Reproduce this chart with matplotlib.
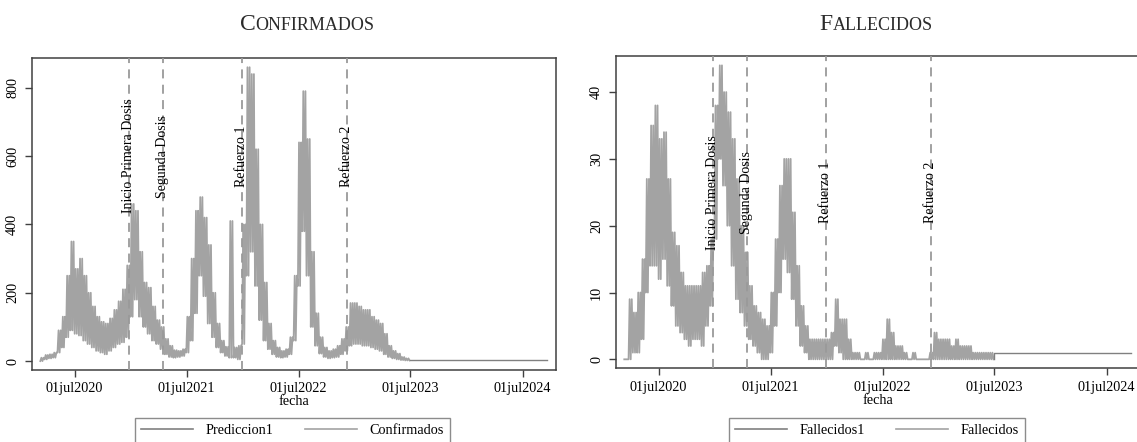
import numpy as np
import pandas as pd
import matplotlib
matplotlib.use("Agg")
import matplotlib.pyplot as plt
from matplotlib.lines import Line2D

plt.rcParams['font.family'] = ['Liberation Serif', 'DejaVu Serif']

# biweekly periods starting 11mar2020, values are (min, max) read per period
start = pd.Timestamp("2020-03-11")
data_end = pd.Timestamp("2023-06-28")
pred_end = pd.Timestamp("2024-09-18")

conf_lo = [0, 5, 8, 10, 25, 40, 70, 90, 80, 75, 60, 50, 40, 30, 25, 20, 30, 40, 50, 55,
           70, 130, 180, 130, 100, 80, 60, 50, 35, 20, 12, 10, 12, 15, 25, 60, 140, 250, 190, 110,
           70, 40, 25, 15, 10, 10, 5, 50, 250, 320, 220, 120, 60, 35, 20, 12, 10, 12, 20, 60,
           220, 380, 250, 100, 45, 22, 12, 8, 10, 12, 20, 30, 45, 50, 50, 45, 45, 40, 35, 30,
           20, 12, 8, 5, 3, 2]
conf_hi = [10, 18, 20, 25, 90, 130, 250, 350, 270, 300, 250, 200, 160, 130, 115, 110, 125, 150, 175, 210,
           280, 460, 440, 320, 230, 215, 160, 120, 100, 65, 45, 32, 30, 35, 130, 300, 440, 480, 420, 340,
           200, 110, 60, 42, 410, 40, 45, 400, 860, 840, 620, 400, 230, 110, 60, 40, 30, 35, 70, 250,
           640, 790, 650, 320, 140, 70, 40, 30, 35, 45, 65, 100, 170, 170, 160, 150, 150, 130, 120, 110,
           80, 45, 30, 22, 12, 8]
conf_pred = 2

fall_lo = [0, 0, 1, 1, 3, 10, 14, 14, 12, 15, 11, 8, 5, 4, 3, 2, 3, 3, 2, 5,
           8, 18, 30, 26, 20, 14, 9, 7, 5, 3, 2, 1, 0, 0, 1, 5, 10, 15, 13, 9,
           5, 2, 1, 0, 0, 0, 0, 0, 0, 2, 1, 0, 0, 0, 0, 0, 0, 0, 0, 0,
           0, 0, 0, 0, 0, 0, 0, 0, 0, 0, 0, 0, 0, 0, 0, 0, 0, 0, 0, 0,
           0, 0, 0, 0, 0, 0]
fall_hi = [0, 9, 7, 10, 15, 27, 35, 38, 33, 34, 27, 19, 17, 13, 11, 11, 11, 11, 13, 14,
           18, 38, 44, 40, 37, 33, 27, 20, 16, 11, 8, 7, 6, 5, 10, 18, 26, 30, 30, 22,
           14, 8, 5, 3, 3, 3, 3, 3, 4, 9, 6, 6, 3, 1, 1, 0, 1, 0, 1, 1,
           3, 6, 4, 2, 2, 1, 0, 1, 0, 0, 0, 1, 4, 3, 3, 3, 2, 3, 2, 2,
           2, 1, 1, 1, 1, 1]
fall_pred = 1

vac_dates = pd.to_datetime(["2020-12-25", "2021-04-14", "2021-12-28", "2022-12-06"])
vac_labels = ["Inicio Primera Dosis", "Segunda Dosis", "Refuerzo 1", "Refuerzo 2"]

tick_dates = pd.to_datetime(["2020-07-01", "2021-07-01", "2022-07-01", "2023-07-01", "2024-07-01"])
tick_labels = ["01jul2020", "01jul2021", "01jul2022", "01jul2023", "01jul2024"]


def zigzag(lo, hi, n=4):
    t, v = [], []
    step = 14 * 24 / n
    for k, (a, b) in enumerate(zip(lo, hi)):
        d0 = start + pd.Timedelta(days=14 * k)
        for j in range(n):
            t.append(d0 + pd.Timedelta(hours=step * j))
            v.append(a if j % 2 == 0 else b)
    t.append(data_end)
    v.append(lo[-1])
    return t, v


LIGHT = '#a3a3a3'
DARK = '#808080'
FRAME = '#404040'

fig = plt.figure(figsize=(11.37, 4.42), dpi=100)
ax1 = fig.add_axes([0.0279, 0.1629, 0.4607, 0.7066])
ax2 = fig.add_axes([0.5415, 0.1674, 0.4607, 0.7059])

panels = [
    (ax1, conf_lo, conf_hi, conf_pred, "Prediccion1", "Confirmados", (-26, 888), [0, 200, 400, 600, 800], 600, 0.2573),
    (ax2, fall_lo, fall_hi, fall_pred, "Fallecidos1", "Fallecidos", (-1.3, 45.4), [0, 10, 20, 30, 40], 25, 0.7713),
]

for ax, lo, hi, pred, lab_pred, lab_obs, ylim, yt, ytext, legx in panels:
    t, v = zigzag(lo, hi)
    ax.plot(t, v, color=LIGHT, lw=1.3, zorder=2)
    ax.plot([data_end, data_end, pred_end], [lo[-1], pred, pred], color=DARK, lw=1.0, zorder=3)
    for d, lab in zip(vac_dates, vac_labels):
        ax.axvline(d, color='#9a9a9a', lw=1.3, ls=(0, (5, 3.5)), zorder=4)
        ax.text(d, ytext, lab, rotation=90, ha='center', va='center', fontsize=10, zorder=5)
    ax.set_xlim(pd.Timestamp("2020-02-12"), pd.Timestamp("2024-10-16"))
    ax.set_ylim(*ylim)
    ax.set_xticks(tick_dates)
    ax.set_xticklabels(tick_labels)
    ax.set_yticks(yt)
    ax.set_yticklabels([str(y) for y in yt], rotation=90, va='center')
    ax.tick_params(axis='both', direction='out', length=5, width=1.0, color=FRAME,
                   labelsize=10.3, pad=4)
    ax.minorticks_off()
    for s in ax.spines.values():
        s.set_color(FRAME)
        s.set_linewidth(1.1)
    ax.set_xlabel("fecha", fontsize=10.3, labelpad=0)
    handles = [Line2D([], [], color=DARK, lw=1.2), Line2D([], [], color=LIGHT, lw=1.2)]
    leg = fig.legend(handles, [lab_pred, lab_obs], ncol=2, loc='upper center',
                     bbox_to_anchor=(legx, 0.0543),
                     frameon=True, fancybox=False, edgecolor='#707070', fontsize=10.3,
                     handlelength=3.6, columnspacing=2.2, handletextpad=0.9,
                     borderpad=0.45, borderaxespad=0)
    leg.get_frame().set_linewidth(1.0)


# small caps titles
def smallcaps(xc, word):
    t1 = fig.text(0, 0.932, word[0], fontsize=17, ha='left', va='baseline', color='#2b2b2b')
    t2 = fig.text(0, 0.932, word[1:].upper(), fontsize=13, ha='left', va='baseline', color='#2b2b2b')
    fig.canvas.draw()
    w1 = t1.get_window_extent().width
    w2 = t2.get_window_extent().width
    x0 = xc - (w1 + w2) / 2
    t1.set_x(x0 / fig.bbox.width)
    t2.set_x((x0 + w1) / fig.bbox.width)

smallcaps(307, "Confirmados")
smallcaps(876, "Fallecidos")

fig.savefig("out.png", dpi=100)
